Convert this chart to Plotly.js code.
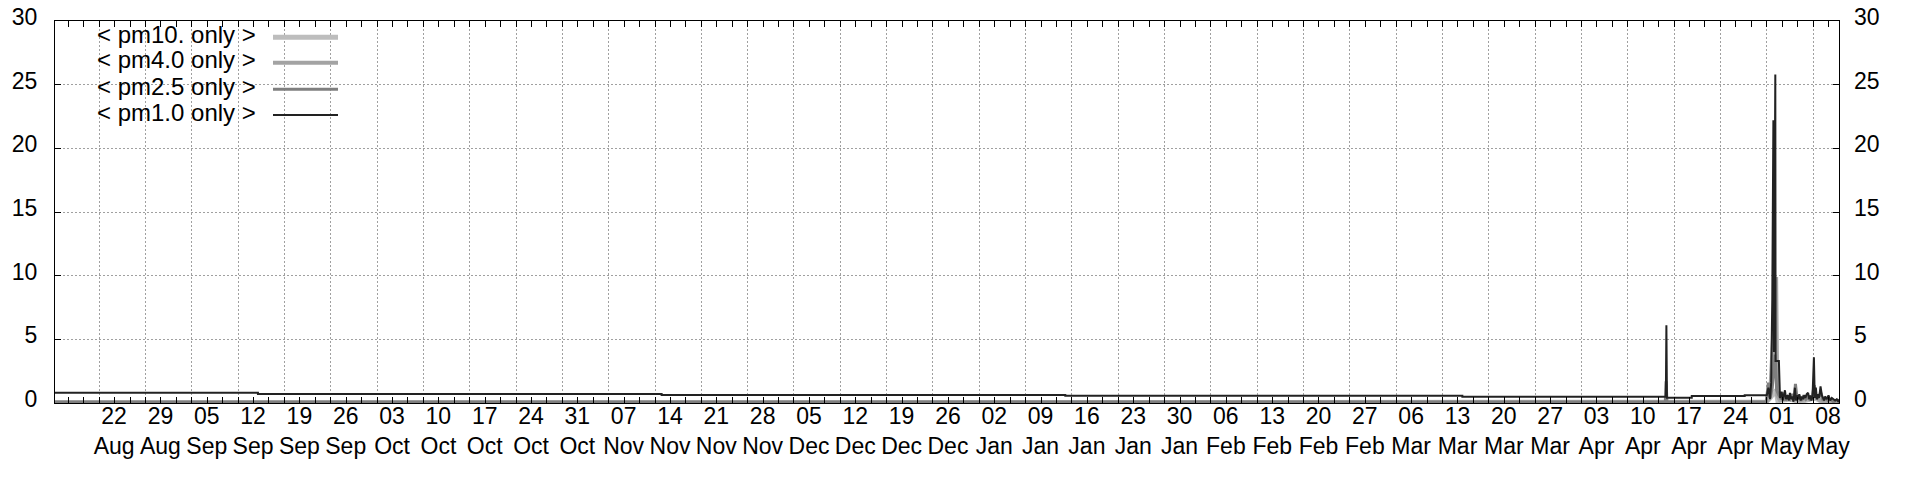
<!DOCTYPE html>
<html>
<head>
<meta charset="utf-8">
<script src="https://cdn.plot.ly/plotly-3.0.1.min.js"></script>
<style>
html,body{margin:0;padding:0;background:#fff;}
#chart{width:1920px;height:480px;}
</style>
</head>
<body>
<div id="chart"></div>
<script>
// ---------- DATA ----------
const seriesNames = ['< pm10. only >', '< pm4.0 only >', '< pm2.5 only >', '< pm1.0 only >'];
const seriesColors = ['#bdbdbd', '#a3a3a3', '#7f7f7f', '#222222'];
const seriesWidths = [5, 4, 3, 2];

const pm10Time = ['2022-08-15 08:00', '2023-04-17 00:00', '2023-04-17 00:00', '2023-04-30 20:00',
  '2023-05-01 08:00', '2023-05-02 10:00', '2023-05-02 16:00', '2023-05-04 12:00', '2023-05-06 00:00',
  '2023-05-08 06:00', '2023-05-09 12:00', '2023-05-12 00:00'];
const pm10Vals = [0.0, 0.0, 0.06, 0.06, 0.3, 1.0, 0.2, 0.3, 0.1, 0.4, 0.1, 0.05];

const pm4Time = ['2022-08-15 08:00', '2023-04-30 22:00', '2023-05-01 12:00', '2023-05-02 10:00',
  '2023-05-02 14:00', '2023-05-03 00:00', '2023-05-04 12:00', '2023-05-05 06:00', '2023-05-06 00:00',
  '2023-05-07 12:00', '2023-05-08 06:00', '2023-05-09 00:00', '2023-05-10 00:00', '2023-05-12 00:00'];
const pm4Vals = [0.03, 0.03, 0.5, 9.9, 0.6, 0.2, 0.4, 0.3, 0.2, 0.4, 0.6, 0.2, 0.1, 0.05];

const pm25Time = ['2022-08-15 08:00', '2023-04-15 16:00', '2023-04-15 19:00', '2023-04-15 22:00',
  '2023-04-30 22:00', '2023-05-01 06:00', '2023-05-01 12:00', '2023-05-01 20:00', '2023-05-02 06:00',
  '2023-05-02 12:00', '2023-05-02 20:00', '2023-05-03 04:00', '2023-05-03 12:00', '2023-05-03 20:00',
  '2023-05-04 04:00', '2023-05-04 12:00', '2023-05-04 20:00', '2023-05-05 04:00', '2023-05-05 08:00',
  '2023-05-05 14:00', '2023-05-05 22:00', '2023-05-06 06:00', '2023-05-06 14:00', '2023-05-06 22:00',
  '2023-05-07 06:00', '2023-05-07 14:00', '2023-05-07 22:00', '2023-05-08 04:00', '2023-05-08 12:00',
  '2023-05-08 20:00', '2023-05-09 04:00', '2023-05-09 12:00', '2023-05-09 20:00', '2023-05-10 06:00',
  '2023-05-10 16:00', '2023-05-11 02:00', '2023-05-11 14:00', '2023-05-12 00:00'];
const pm25Vals = [0.08, 0.08, 1.7, 0.08,
  0.08, 1.6, 0.4, 1.2, 3.8,
  1.0, 0.6, 0.3, 0.8, 0.2,
  0.5, 0.3, 0.7, 0.2, 1.5,
  0.3, 0.5, 0.2, 0.6, 0.3,
  0.5, 0.2, 0.6, 1.4, 0.3,
  0.5, 0.8, 0.2, 0.4, 0.2,
  0.3, 0.1, 0.2, 0.1];

const pm1Time = ['2022-08-15 08:00', '2022-09-15 00:00', '2022-09-15 00:00', '2022-11-15 00:00',
  '2022-11-15 00:00', '2023-01-15 00:00', '2023-01-15 00:00', '2023-03-16 00:00', '2023-03-16 00:00',
  '2023-04-15 18:00', '2023-04-15 20:00', '2023-04-15 22:00', '2023-04-19 16:00', '2023-04-19 16:00',
  '2023-04-27 16:00', '2023-04-27 16:00', '2023-05-01 00:00',
  '2023-05-01 06:00', '2023-05-01 12:00', '2023-05-01 16:00', '2023-05-01 20:00', '2023-05-02 00:00',
  '2023-05-02 02:00', '2023-05-02 05:00', '2023-05-02 07:00', '2023-05-02 08:00', '2023-05-02 14:00',
  '2023-05-02 20:00', '2023-05-03 00:00',
  '2023-05-03 06:00', '2023-05-03 10:00', '2023-05-03 14:00', '2023-05-03 18:00', '2023-05-03 22:00',
  '2023-05-04 03:00', '2023-05-04 08:00', '2023-05-04 12:00', '2023-05-04 16:00', '2023-05-04 20:00',
  '2023-05-05 01:00', '2023-05-05 06:00', '2023-05-05 10:00', '2023-05-05 14:00', '2023-05-05 18:00',
  '2023-05-05 22:00', '2023-05-06 03:00', '2023-05-06 08:00', '2023-05-06 12:00', '2023-05-06 16:00',
  '2023-05-06 20:00', '2023-05-07 01:00', '2023-05-07 06:00', '2023-05-07 10:00', '2023-05-07 14:00',
  '2023-05-07 18:00', '2023-05-07 22:00', '2023-05-08 03:00', '2023-05-08 06:00', '2023-05-08 10:00',
  '2023-05-08 14:00', '2023-05-08 18:00', '2023-05-08 22:00', '2023-05-09 03:00', '2023-05-09 08:00',
  '2023-05-09 12:00', '2023-05-09 16:00', '2023-05-09 20:00', '2023-05-10 02:00', '2023-05-10 08:00',
  '2023-05-10 14:00', '2023-05-10 20:00', '2023-05-11 02:00', '2023-05-11 08:00', '2023-05-11 14:00',
  '2023-05-11 20:00', '2023-05-12 00:00'];
const pm1Vals = [0.8, 0.8, 0.7, 0.7,
  0.63, 0.63, 0.56, 0.56, 0.5,
  0.5, 6.1, 0.42, 0.42, 0.55,
  0.55, 0.6, 0.6,
  1.2, 0.3, 1.6, 8.1, 22.2,
  4.0, 25.8, 25.8, 3.3, 3.3,
  3.3, 0.4,
  0.9, 0.2, 0.7, 1.0, 0.3,
  0.6, 0.2, 0.8, 0.3, 0.5,
  0.1, 1.2, 0.2, 0.6, 0.3,
  0.7, 0.2, 0.5, 0.3, 0.6,
  0.4, 0.7, 0.8, 0.3, 0.6,
  0.2, 0.5, 3.6, 0.4, 1.2,
  0.3, 0.7, 0.4, 1.3, 0.6,
  0.3, 0.2, 0.5, 0.3, 0.6,
  0.2, 0.4, 0.3, 0.2, 0.3,
  0.1, 0.3];

const xRange = ['2022-08-15 08:00', '2023-05-11 22:00'];
const xTick0 = '2022-08-22';
const yRange = [0, 30];

// ---------- LAYOUT HELPERS ----------
const M = {l: 55, r: 81, t: 21, b: 77};
const PW = 1920 - M.l - M.r, PH = 480 - M.t - M.b;
const px2x = px => (px - M.l) / PW;
const py2y = py => 1 - (py - M.t) / PH;

const times = [pm10Time, pm4Time, pm25Time, pm1Time];
const vals = [pm10Vals, pm4Vals, pm25Vals, pm1Vals];

const traces = seriesNames.map((n, i) => ({
  type: 'scatter', mode: 'lines', name: n,
  x: times[i], y: vals[i],
  line: {color: seriesColors[i], width: seriesWidths[i]},
  showlegend: false, hoverinfo: 'skip'
}));

const FONT = 'Liberation Sans, Arial, sans-serif';
const DAY = 86400000;
const TICKFONT = {family: FONT, size: 23, color: '#000'};

const shapes = [{
  type: 'rect', xref: 'paper', yref: 'paper',
  x0: px2x(66), x1: px2x(351), y0: py2y(129), y1: py2y(27),
  fillcolor: '#ffffff', line: {width: 0}, layer: 'between'
}];
const annotations = [];
const legendY = [37.3, 62.7, 89.3, 115];
seriesNames.forEach((n, i) => {
  shapes.push({
    type: 'line', xref: 'paper', yref: 'paper',
    x0: px2x(273), x1: px2x(338), y0: py2y(legendY[i]), y1: py2y(legendY[i]),
    line: {color: seriesColors[i], width: seriesWidths[i]}
  });
  annotations.push({
    xref: 'paper', yref: 'paper', x: px2x(258), y: py2y(legendY[i]),
    xanchor: 'right', yanchor: 'middle', yshift: 3, showarrow: false,
    text: n.replace(/</g, '&lt;').replace(/>/g, '&gt;'),
    font: {family: FONT, size: 24, color: '#000'}
  });
});

const layout = {
  width: 1920, height: 480,
  margin: M,
  paper_bgcolor: '#fff', plot_bgcolor: '#fff',
  showlegend: false,
  font: {family: FONT, size: 23, color: '#000'},
  xaxis: {
    type: 'date', range: xRange,
    tick0: xTick0, dtick: 7 * DAY, tickformat: '%d<br>%b',
    ticks: 'inside', ticklen: 6, tickwidth: 1, tickcolor: '#000',
    ticklabelshift: 15, ticklabelstandoff: -8,
    showline: true, linecolor: '#000', linewidth: 1, mirror: 'allticks',
    showgrid: true, gridcolor: '#a0a0a0', gridwidth: 1, griddash: '2px,2px',
    minor: {dtick: 7 * DAY / 3, tick0: xTick0, ticks: 'inside', ticklen: 3, tickcolor: '#000', showgrid: false},
    zeroline: false, fixedrange: true,
    tickfont: TICKFONT
  },
  yaxis: {
    range: yRange, dtick: 5, tick0: 0,
    ticks: 'inside', ticklen: 6, tickcolor: '#000',
    ticklabelstandoff: 12, ticklabelshift: -4,
    showline: true, linecolor: '#000', linewidth: 1, mirror: 'allticks',
    showgrid: true, gridcolor: '#a0a0a0', gridwidth: 1, griddash: '2px,2px',
    zeroline: false, fixedrange: true,
    tickfont: TICKFONT
  },
  yaxis2: {
    overlaying: 'y', side: 'right', range: yRange, dtick: 5, tick0: 0,
    ticks: '', showgrid: false, showline: false, zeroline: false,
    ticklabelstandoff: 14, ticklabelshift: -4, fixedrange: true,
    tickfont: TICKFONT
  },
  shapes: shapes,
  annotations: annotations
};

// invisible helper trace so the right-hand axis is drawn
traces.push({type: 'scatter', mode: 'lines', x: xRange, y: yRange, yaxis: 'y2',
  line: {width: 0, color: 'rgba(0,0,0,0)'}, showlegend: false, hoverinfo: 'skip'});

Plotly.newPlot('chart', traces, layout, {displayModeBar: false, staticPlot: true});
</script>
</body>
</html>
